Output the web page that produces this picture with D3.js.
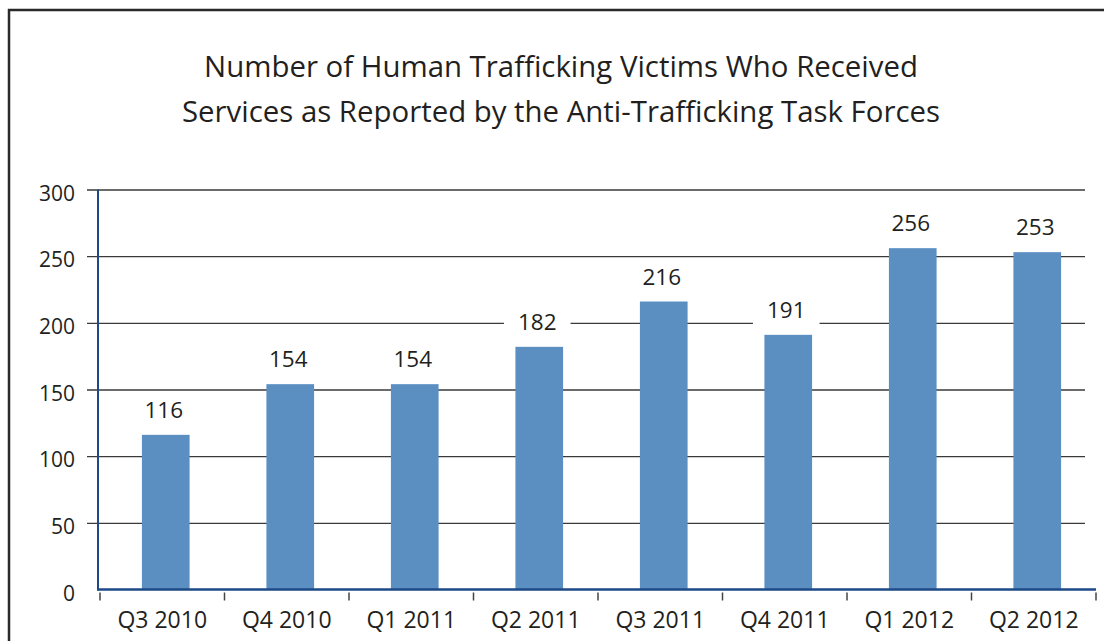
<!DOCTYPE html>
<html>
<head>
<meta charset="utf-8">
<script src="https://cdn.jsdelivr.net/npm/d3@7"></script>
<style>
  html, body { margin: 0; padding: 0; background: #fff; }
  svg { display: block; }
  text { font-family: "Open Sans", "Noto Sans", sans-serif; fill: #231f20; }
</style>
</head>
<body>
<svg id="chart" width="1104" height="641"></svg>
<script>
const titleLines = [
  "Number of Human Trafficking Victims Who Received",
  "Services as Reported by the Anti-Trafficking Task Forces"
];
const categories = ["Q3 2010", "Q4 2010", "Q1 2011", "Q2 2011", "Q3 2011", "Q4 2011", "Q1 2012", "Q2 2012"];
const values = [116, 154, 154, 182, 216, 191, 256, 253];
const yTicks = [0, 50, 100, 150, 200, 250, 300];

const svg = d3.select("#chart");
const W = 1104, H = 641;

// frame (left and top edges of the box)
svg.append("line").attr("x1", 9).attr("x2", 9).attr("y1", 9).attr("y2", H)
  .attr("stroke", "#2a2a2a").attr("stroke-width", 2.5);
svg.append("line").attr("x1", 8).attr("x2", W).attr("y1", 10).attr("y2", 10)
  .attr("stroke", "#2a2a2a").attr("stroke-width", 2.5);

// title
svg.append("g").selectAll("text").data(titleLines).join("text")
  .attr("x", 561).attr("y", (d, i) => 77 + i * 45)
  .attr("text-anchor", "middle")
  .style("font-size", "29.4px")
  .text(d => d);

const left = 98, right = 1096, gridRight = 1085;
const y = d3.scaleLinear().domain([0, 300]).range([589.5, 189.5]);
const xAxisScale = d3.scaleBand().domain(categories).range([100, 1096]);
const xBar = d3.scaleBand().domain(categories).range([103.5, 1099.5]).paddingInner(0.617).paddingOuter(0.3085);

// gridlines + y tick labels via axis
const yAxis = d3.axisLeft(y).tickValues(yTicks).tickSize(-(gridRight - 87)).tickPadding(12);
const yg = svg.append("g").attr("transform", `translate(87,0)`).call(yAxis);
yg.select(".domain").remove();
yg.selectAll(".tick line").attr("stroke", "#3a3a3a").attr("stroke-width", 1.3);
yg.selectAll(".tick text").style("font-size", "21px").attr("fill", "#231f20")
  .attr("x", -12).attr("dy", "0.5em");
yg.selectAll(".tick").filter(d => d === 0).select("line").remove();

// bars
svg.append("g").selectAll("rect").data(values).join("rect")
  .attr("x", (d, i) => xBar(categories[i]))
  .attr("width", xBar.bandwidth())
  .attr("y", d => y(d))
  .attr("height", d => y(0) - y(d))
  .attr("fill", "#5b8fc2");

// y axis line
svg.append("line").attr("x1", left).attr("x2", left).attr("y1", y(300)).attr("y2", y(0) + 1)
  .attr("stroke", "#1d4a87").attr("stroke-width", 2);

// x axis (baseline, ticks, labels)
const xAxis = d3.axisBottom(xAxisScale).tickSize(0).tickPadding(0);
const xg = svg.append("g").attr("transform", `translate(0,${y(0)})`).call(xAxis);
xg.select(".domain").remove();
xg.selectAll(".tick text").style("font-size", "23px").attr("fill", "#231f20")
  .attr("y", 38.5).attr("dy", 0);
svg.append("line").attr("x1", left - 1).attr("x2", right).attr("y1", y(0)).attr("y2", y(0))
  .attr("stroke", "#1d4a87").attr("stroke-width", 2.5);
const bounds = categories.map(c => xAxisScale(c)).concat([xAxisScale(categories[categories.length - 1]) + xAxisScale.bandwidth()]);
svg.append("g").selectAll("line").data(bounds).join("line")
  .attr("x1", d => d).attr("x2", d => d)
  .attr("y1", y(0) + 3).attr("y2", y(0) + 11)
  .attr("stroke", "#444").attr("stroke-width", 1.5);

// value labels with white background
const lg = svg.append("g");
values.forEach((v, i) => {
  const cx = xBar(categories[i]) + xBar.bandwidth() / 2 - 2;
  const by = y(v) - 17;
  const g = lg.append("g");
  const t = g.append("text").attr("x", cx).attr("y", by).attr("text-anchor", "middle")
    .style("font-size", "22.5px").text(v);
  const w = t.node().getComputedTextLength();
  g.insert("rect", "text").attr("x", cx - w / 2 - 14).attr("width", w + 28)
    .attr("y", by - 22).attr("height", 31).attr("fill", "#fff");
});
</script>
</body>
</html>
